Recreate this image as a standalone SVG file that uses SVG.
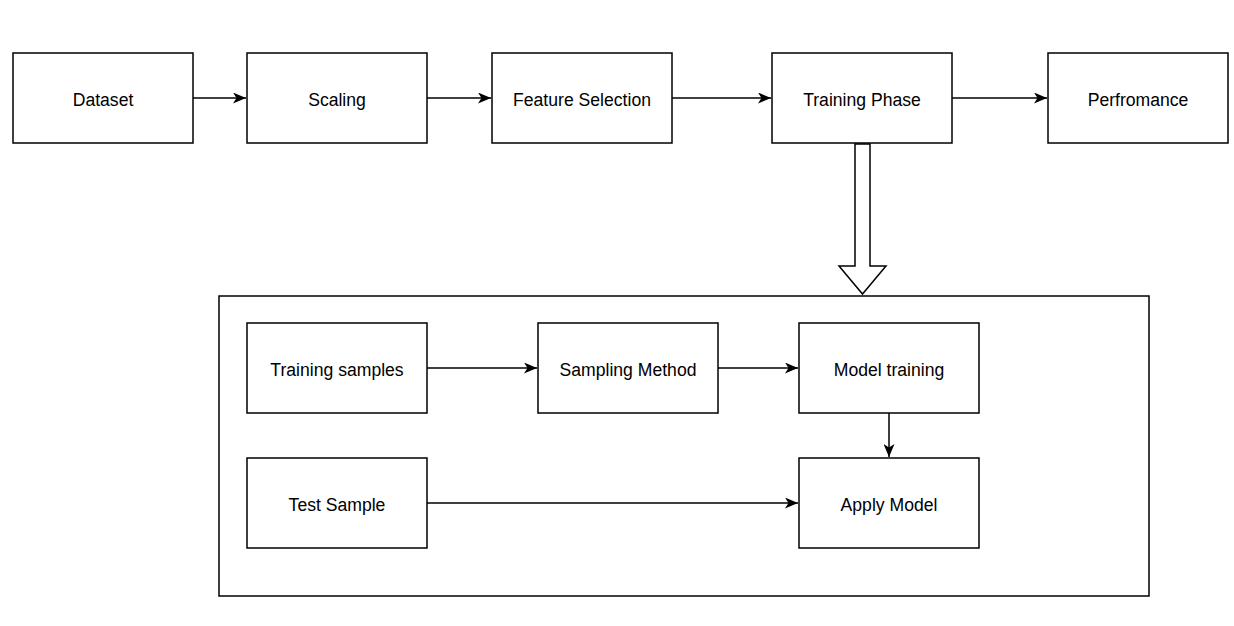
<svg xmlns="http://www.w3.org/2000/svg" width="1234" height="626" viewBox="0 0 1234 626">
<defs>
<style>
.box{fill:#fff;stroke:#000;stroke-width:1.5}
.lbl{font-family:"Liberation Sans",Arial,sans-serif;font-size:17.6px;fill:#000;text-anchor:middle;dominant-baseline:central}
.con{fill:none;stroke:#000;stroke-width:1.5}
</style>
<marker id="ah" viewBox="0 0 13 11" refX="13" refY="5.5" markerWidth="13" markerHeight="11" markerUnits="userSpaceOnUse" orient="auto">
<path d="M0,0 L13,5.5 L0,11 L3.5,5.5 Z" fill="#000"/>
</marker>
</defs>
<rect width="1234" height="626" fill="#fff"/>
<g id="container"><rect class="box" x="219" y="296" width="930" height="300"/></g>
<g id="dataset"><rect class="box" x="13" y="53" width="180" height="90"/><text class="lbl" x="103" y="100">Dataset</text></g>
<g id="scaling"><rect class="box" x="247" y="53" width="180" height="90"/><text class="lbl" x="337" y="100">Scaling</text></g>
<g id="feature"><rect class="box" x="492" y="53" width="180" height="90"/><text class="lbl" x="582" y="100">Feature Selection</text></g>
<g id="training"><rect class="box" x="772" y="53" width="180" height="90"/><text class="lbl" x="862" y="100">Training Phase</text></g>
<g id="perf"><rect class="box" x="1048" y="53" width="180" height="90"/><text class="lbl" x="1138" y="100">Perfromance</text></g>
<g id="tsamples"><rect class="box" x="247" y="323" width="180" height="90"/><text class="lbl" x="337" y="370">Training samples</text></g>
<g id="sampling"><rect class="box" x="538" y="323" width="180" height="90"/><text class="lbl" x="628" y="370">Sampling Method</text></g>
<g id="mtraining"><rect class="box" x="799" y="323" width="180" height="90"/><text class="lbl" x="889" y="370">Model training</text></g>
<g id="test"><rect class="box" x="247" y="458" width="180" height="90"/><text class="lbl" x="337" y="505">Test Sample</text></g>
<g id="apply"><rect class="box" x="799" y="458" width="180" height="90"/><text class="lbl" x="889" y="505">Apply Model</text></g>
<g id="connectors">
<path class="con" d="M193,98 H246" marker-end="url(#ah)"/>
<path class="con" d="M427,98 H491" marker-end="url(#ah)"/>
<path class="con" d="M672,98 H771" marker-end="url(#ah)"/>
<path class="con" d="M952,98 H1047" marker-end="url(#ah)"/>
<path class="con" d="M427,368 H537" marker-end="url(#ah)"/>
<path class="con" d="M718,368 H798" marker-end="url(#ah)"/>
<path class="con" d="M889,413 V457" marker-end="url(#ah)"/>
<path class="con" d="M427,503 H798" marker-end="url(#ah)"/>
<path d="M855,144 H870 V266 H886 L862.5,294 L839,266 H855 Z" fill="#fff" stroke="#000" stroke-width="1.5"/>
</g>
</svg>
